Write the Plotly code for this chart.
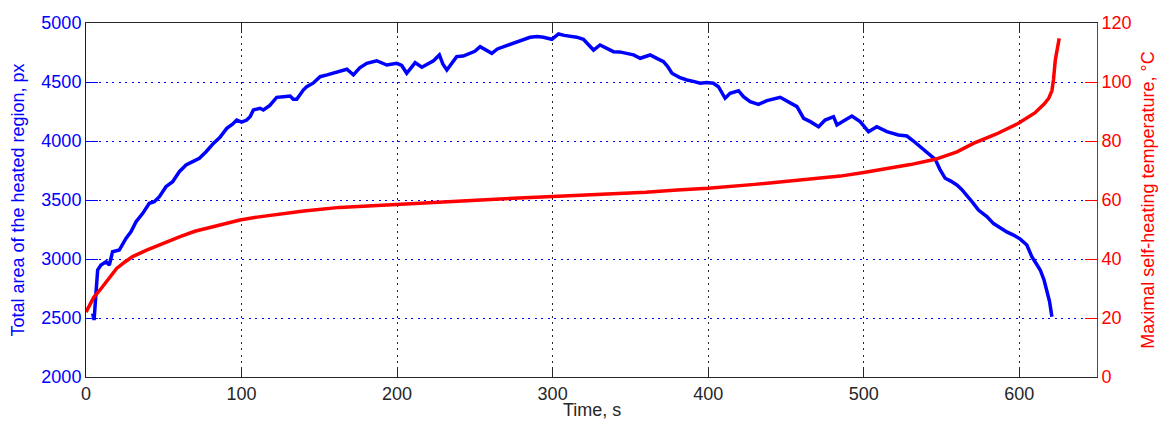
import plotly.graph_objects as go

# Total area of the heated region (px) over time (s)
area_time = [4.3, 5.2, 6.4, 7.5, 9.6, 12.9, 15.0, 17.1, 21.4, 25.7, 28.9, 32.2, 36.5,
             40.7, 43.9, 47.2, 51.4, 55.7, 60.0, 64.3, 68.6, 72.9, 77.2, 81.9, 86.0,
             90.5, 94.0, 96.9, 100.0, 103.3, 105.5, 107.6, 111.9, 114.0, 118.0, 122.6,
             127.0, 131.2, 133.3, 135.5, 139.7, 141.9, 146.0, 150.5, 155.0, 159.0,
             161.2, 164.5, 167.7, 171.9, 176.0, 180.5, 186.9, 193.4, 199.8, 203.0,
             206.2, 209.0, 211.6, 215.9, 219.5, 223.4, 227.2, 229.5, 232.0, 238.3,
             242.5, 246.9, 250.0, 253.4, 257.0, 260.9, 264.5, 268.4, 272.5, 277.0,
             281.0, 285.5, 290.0, 294.1, 299.5, 303.8, 307.5, 311.3, 315.5, 319.8,
             326.3, 330.5, 334.0, 339.1, 343.0, 347.7, 352.0, 356.3, 359.5, 362.7,
             367.0, 371.3, 374.0, 376.7, 381.5, 386.3, 390.5, 394.9, 399.0, 403.4,
             406.6, 410.9, 414.1, 419.5, 422.7, 427.0, 432.4, 437.8, 446.3, 451.8,
             457.1, 461.4, 465.7, 471.0, 475.2, 480.6, 482.8, 488.1, 492.4, 497.7,
             503.1, 508.4, 514.9, 522.3, 527.8, 532.0, 536.3, 541.0, 546.0, 549.0,
             552.4, 556.0, 559.9, 563.0, 566.3, 570.0, 573.8, 576.5, 579.2, 583.5,
             587.8, 592.0, 596.3, 600.5, 604.9, 608.1, 611.0, 613.5, 616.0, 617.8,
             619.5, 621.0]
area_px = [2540, 2483, 2709, 2907, 2949, 2977, 2949, 3062, 3076, 3175, 3231, 3316, 3387,
           3472, 3486, 3528, 3613, 3655, 3740, 3797, 3825, 3853, 3909, 3980, 4030,
           4107, 4140, 4178, 4160, 4178, 4206, 4263, 4277, 4263, 4300, 4370,
           4375, 4381, 4353, 4353, 4432, 4460, 4490, 4545, 4560, 4574,
           4588, 4600, 4608, 4560, 4620, 4658, 4680, 4644, 4658, 4640,
           4574, 4620, 4664, 4625, 4655, 4680, 4729, 4650, 4602, 4715,
           4720, 4743, 4760, 4799, 4770, 4743, 4780, 4799, 4815, 4842,
           4860, 4879, 4885, 4879, 4862, 4907, 4895, 4890, 4880, 4862,
           4771, 4814, 4790, 4757, 4755, 4743, 4730, 4701, 4715, 4729,
           4700, 4672, 4630, 4574, 4540, 4517, 4505, 4489, 4495, 4489,
           4460, 4362, 4404, 4426, 4376, 4333, 4311, 4342, 4370, 4333,
           4291, 4192, 4164, 4121, 4178, 4206, 4136, 4178, 4212, 4164,
           4079, 4121, 4079, 4051, 4042, 4000, 3952, 3900, 3845, 3760,
           3684, 3660, 3627, 3590, 3542, 3480, 3415, 3390, 3359, 3300,
           3260, 3230, 3203, 3170, 3119, 3020, 2960, 2907, 2820, 2737,
           2640, 2511]

# Maximal self-heating temperature (°C) over time (s)
temp_time = [0.0, 2.0, 5.0, 9.0, 14.0, 19.7, 25.0, 30.0, 39.0, 50.0, 60.5, 70.0, 81.9,
             99.0, 110.0, 124.8, 140.0, 163.0, 180.0, 200.0, 230.0, 260.0, 300.0,
             330.0, 360.0, 380.0, 400.0, 430.0, 460.0, 485.0, 500.0, 517.0, 530.0,
             546.0, 560.0, 570.5, 585.0, 599.5, 610.0, 616.0, 619.0, 621.0, 622.0,
             623.2, 625.7]
temp_c = [22.0, 24.0, 27.0, 29.5, 33.0, 36.8, 39.0, 40.8, 43.0, 45.5, 47.6, 49.4, 51.0,
          53.2, 54.2, 55.3, 56.3, 57.5, 58.0, 58.6, 59.4, 60.2, 61.2,
          61.8, 62.6, 63.4, 64.0, 65.3, 66.8, 68.1, 69.3, 70.7, 72.0,
          73.8, 76.3, 79.2, 82.3, 86.0, 89.5, 92.5, 94.5, 97.0, 100.7,
          107.5, 114.8]

x_ticks = [0, 100, 200, 300, 400, 500, 600]
area_ticks = [2000, 2500, 3000, 3500, 4000, 4500, 5000]
temp_ticks = [0, 20, 40, 60, 80, 100, 120]

BLUE = "#0000FF"
RED = "#FF0000"
DARK = "#262626"
FONT = "Liberation Sans, Arial, sans-serif"

fig = go.Figure()
fig.add_trace(go.Scatter(x=area_time, y=area_px, mode="lines",
                         line=dict(color=BLUE, width=3.5), yaxis="y",
                         showlegend=False))
fig.add_trace(go.Scatter(x=temp_time, y=temp_c, mode="lines",
                         line=dict(color=RED, width=3.5), yaxis="y2",
                         showlegend=False))

fig.update_layout(
    width=1159, height=426,
    margin=dict(l=86, r=62, t=23, b=49, autoexpand=False),
    paper_bgcolor="white", plot_bgcolor="white",
    font=dict(family=FONT, size=18, color=DARK),
    xaxis=dict(
        range=[0, 650], tickvals=x_ticks, ticks="inside", ticklen=10,
        tickcolor=DARK, showline=True, linecolor=DARK, linewidth=1,
        mirror="ticks", showgrid=True, gridcolor=DARK, gridwidth=1,
        griddash="2px,4.5px", zeroline=False,
        tickfont=dict(size=18, color=DARK),
    ),
    yaxis=dict(
        range=[2000, 5000], tickvals=area_ticks, ticks="inside", ticklen=12,
        tickcolor=BLUE, showline=True, linecolor=BLUE, linewidth=1,
        showgrid=True, gridcolor=BLUE, gridwidth=1, griddash="2px,4.5px",
        zeroline=False, tickfont=dict(size=18, color=BLUE),
        title=dict(text="Total area of the heated region, px",
                   font=dict(size=18, color=BLUE), standoff=12),
    ),
    yaxis2=dict(
        range=[0, 120], tickvals=temp_ticks, ticks="inside", ticklen=12,
        tickcolor=RED, showline=True, linecolor=RED, linewidth=1,
        overlaying="y", side="right", showgrid=False, zeroline=False,
        tickfont=dict(size=18, color=RED),
        title=dict(text="Maximal self-heating temperature, °C",
                   font=dict(size=18, color=RED), standoff=10),
    ),
    annotations=[dict(text="Time, s", xref="paper", yref="paper",
                      x=0.5, y=-0.094, xanchor="center", yanchor="middle",
                      showarrow=False, font=dict(size=18, color=DARK))],
)

fig.write_html("out.html")
